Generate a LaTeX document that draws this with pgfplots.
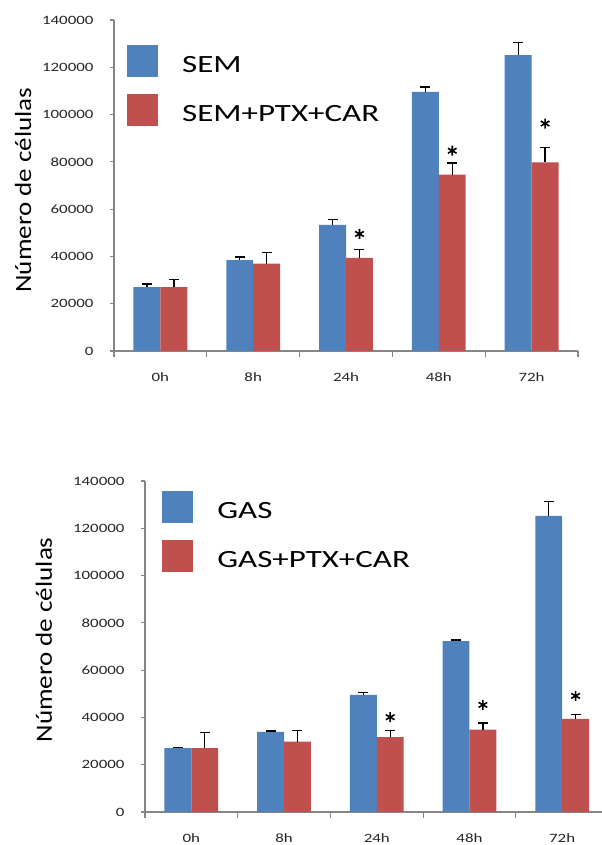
\documentclass[border=0pt]{standalone}
\usepackage{pgfplots}
\pgfplotsset{compat=1.18}
\usepackage{pgfplotstable}
\usepackage{fontspec}
\setmainfont{Carlito}
\newfontfamily\widefont[FakeStretch=1.33]{Carlito}
\newfontfamily\labfont[FakeStretch=1.16]{Carlito}

\definecolor{xlblue}{HTML}{4F81BD}
\definecolor{xlred}{HTML}{C0504D}
\definecolor{axgray}{HTML}{868686}

% columns: time point index, mean cell count, standard error
\pgfplotstableread{
x y e
0 27000 1270
1 38400 1400
2 53300 2250
3 109600 2100
4 125100 5350
}\semctrl
\pgfplotstableread{
x y e
0 27000 3100
1 36900 4640
2 39400 3500
3 74600 4900
4 79800 6330
}\semtrat
\pgfplotstableread{
x y e
0 27000 420
1 33900 420
2 49500 1130
3 72300 420
4 125200 6190
}\gasctrl
\pgfplotstableread{
x y e
0 27000 6600
1 29800 4640
2 31700 2800
3 34800 2800
4 39400 1970
}\gastrat

\pgfplotsset{
  cellchart/.style={
    scale only axis,
    xmin=-0.5, xmax=4.5, ymin=0, ymax=140000,
    enlargelimits=false,
    axis lines=left,
    axis line style={-, draw=axgray, line width=1.1bp},
    tick style={draw=axgray, line width=1.1bp},
    tick align=outside,
    xtick={0,...,4},
    xticklabels={0h,8h,24h,48h,72h},
    major x tick style={draw=none},
    minor xtick={-0.5,0.5,...,4.5},
    minor tick length=6bp,
    major tick length=4bp,
    ytick={0,20000,...,140000},
    scaled y ticks=false,
    /pgf/number format/fixed,
    /pgf/number format/1000 sep={},
    /pgf/number format/assume math mode=true,
    ticklabel style={font=\widefont\fontsize{12.7bp}{14bp}\selectfont, text=black!85},
    xticklabel style={yshift=-14bp},
    yticklabel style={xshift=-13bp},
    legend cell align=left,
    legend style={draw=none, fill=none, inner sep=0pt, row sep=17bp,
      font=\widefont\fontsize{24.8bp}{28bp}\selectfont,
      nodes={inner sep=0pt},
      /tikz/every odd column/.append style={column sep=24bp}},
    legend image code/.code={\fill[##1] (0bp,-12bp) rectangle (31bp,20bp);},
  },
  % bars are drawn centred on their own x position (group position -/+ half a bar)
  errstyle/.style={error bars/.cd, y dir=plus, y explicit,
    error bar style={black, line width=1.3bp},
    error mark options={black, line width=1.3bp, mark size=5bp, rotate=90}},
  ctrlbar/.style={ybar, bar width=0.29, bar shift=0, fill=xlblue, draw=none, errstyle},
  tratbar/.style={ybar, bar width=0.29, bar shift=0, fill=xlred, draw=none, errstyle},
  signif/.style={only marks, mark=asterisk, mark size=5bp, black,
    mark options={line width=1.6bp}, forget plot},
}

\begin{document}
\begin{tikzpicture}[x=1bp,y=1bp]
\path[use as bounding box] (0,0) rectangle (602,845);

% upper panel: SEM
\begin{axis}[cellchart,
  at={(114bp,494bp)}, anchor=south west,
  width=464bp, height=331bp,
  ylabel={Número de células},
  every axis y label/.style={at={(axis description cs:-0.196,0.486)}, rotate=90, anchor=center,
    font=\labfont\fontsize{23.3bp}{26bp}\selectfont},
  legend style={at={(axis description cs:0.028,0.924)}, anchor=north west},
]
\addplot[ctrlbar] table[x expr=\thisrow{x}-0.145, y=y, y error=e] {\semctrl};
\addlegendentry{SEM}
\addplot[tratbar] table[x expr=\thisrow{x}+0.145, y=y, y error=e] {\semtrat};
\addlegendentry{SEM+PTX+CAR}
\addplot[signif] coordinates {(2.145,49500) (3.145,84700) (4.145,96200)};
\end{axis}

% lower panel: GAS
\begin{axis}[cellchart,
  at={(145bp,33bp)}, anchor=south west,
  width=463.5bp, height=331bp,
  ylabel={Número de células},
  every axis y label/.style={at={(axis description cs:-0.218,0.52)}, rotate=90, anchor=center,
    font=\labfont\fontsize{23.3bp}{26bp}\selectfont},
  legend style={at={(axis description cs:0.037,0.97)}, anchor=north west},
]
\addplot[ctrlbar] table[x expr=\thisrow{x}-0.145, y=y, y error=e] {\gasctrl};
\addlegendentry{GAS}
\addplot[tratbar] table[x expr=\thisrow{x}+0.145, y=y, y error=e] {\gastrat};
\addlegendentry{GAS+PTX+CAR}
\addplot[signif] coordinates {(2.145,40100) (3.145,45300) (4.145,49100)};
\end{axis}
\end{tikzpicture}
\end{document}
